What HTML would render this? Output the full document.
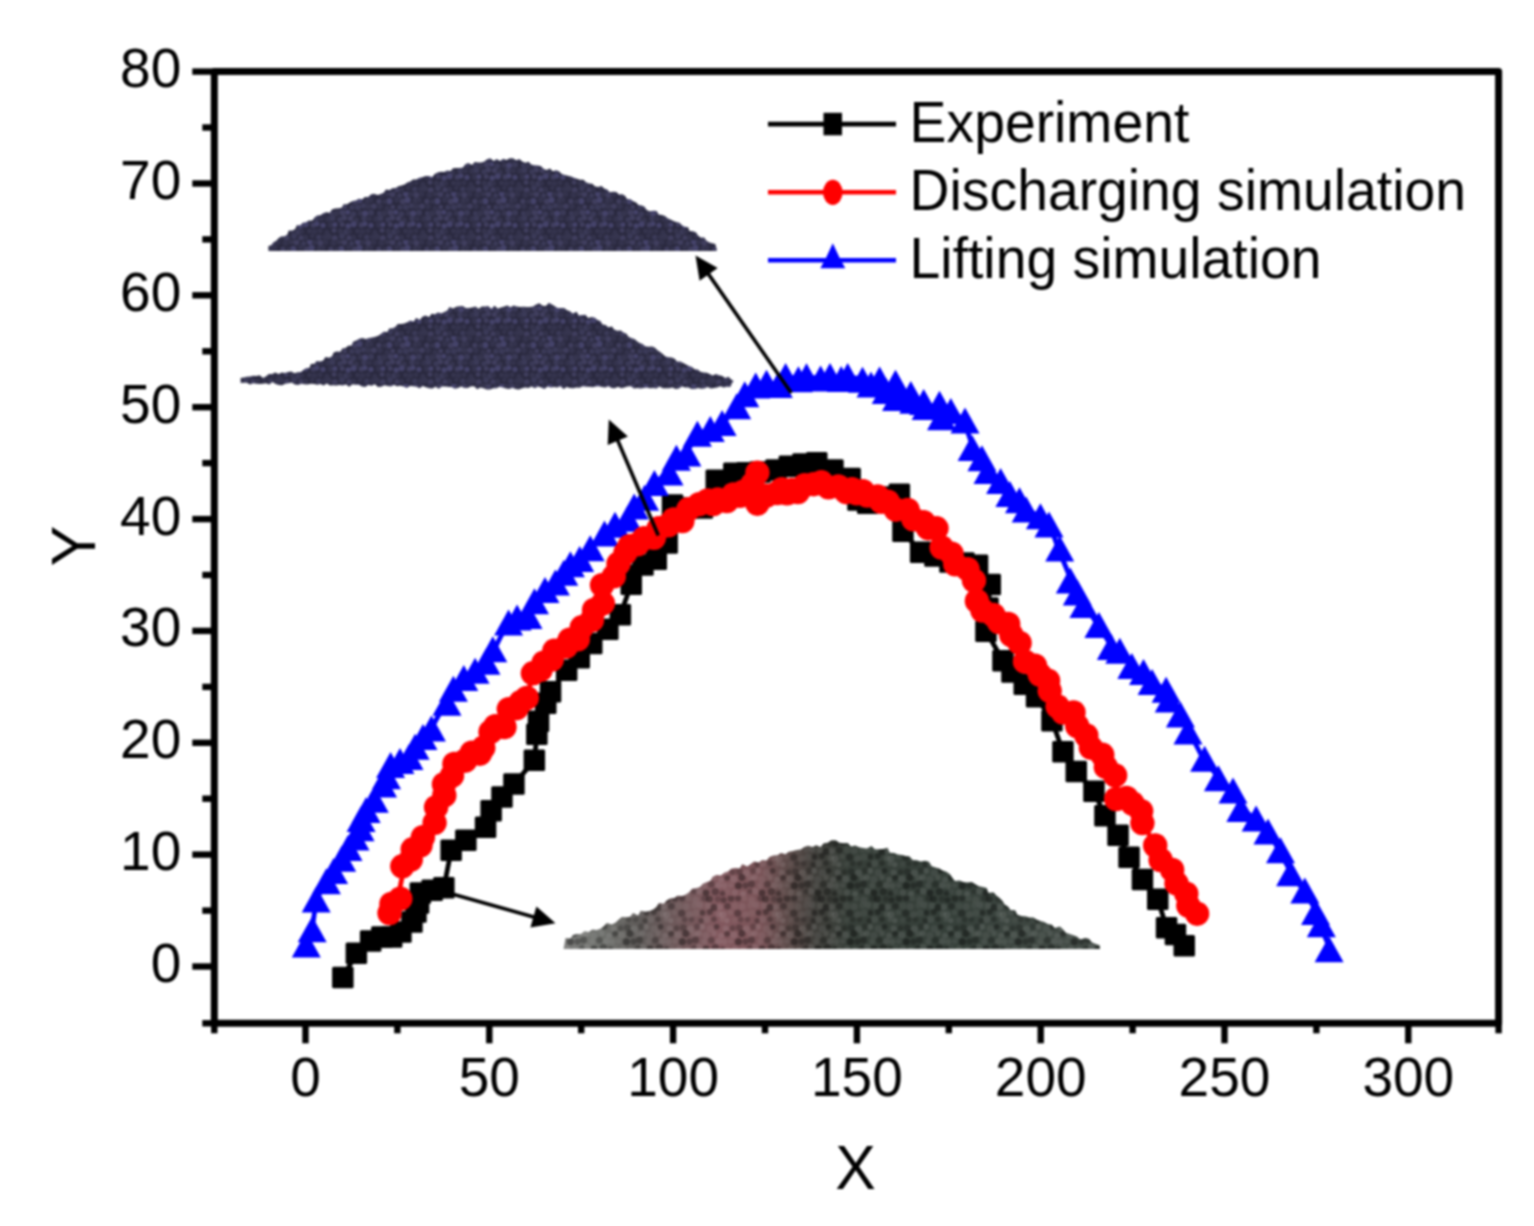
<!DOCTYPE html><html><head><meta charset="utf-8"><title>Pile profile</title><style>html,body{margin:0;padding:0;background:#fff;}svg{display:block;}#w{filter:blur(1px);width:1534px;height:1226px;}text{font-family:"Liberation Sans",Arial,sans-serif;fill:#000;}</style></head><body><div id="w"><svg width="1534" height="1226" viewBox="0 0 1534 1226"><defs><pattern id="pn" width="48" height="48" patternUnits="userSpaceOnUse"><rect width="48" height="48" fill="#2a293f"/><circle cx="3.4" cy="1.8" r="2.6" fill="#36354f"/><circle cx="8.4" cy="2.3" r="3.0" fill="#403e5e"/><circle cx="15.6" cy="3.5" r="2.5" fill="#3b3a58"/><circle cx="22.0" cy="1.9" r="3.0" fill="#45436a"/><circle cx="26.8" cy="1.8" r="2.9" fill="#34334d"/><circle cx="32.3" cy="3.0" r="2.9" fill="#403e5e"/><circle cx="37.8" cy="2.2" r="2.5" fill="#34334d"/><circle cx="-2.6" cy="3.1" r="3.0" fill="#34334d"/><circle cx="45.4" cy="3.1" r="3.0" fill="#34334d"/><circle cx="5.3" cy="9.2" r="3.1" fill="#45436a"/><circle cx="12.8" cy="7.7" r="2.9" fill="#34334d"/><circle cx="18.8" cy="9.5" r="2.9" fill="#403e5e"/><circle cx="23.6" cy="8.1" r="3.1" fill="#45436a"/><circle cx="31.2" cy="8.6" r="2.7" fill="#36354f"/><circle cx="34.9" cy="8.0" r="2.7" fill="#34334d"/><circle cx="42.9" cy="9.3" r="2.6" fill="#403e5e"/><circle cx="0.8" cy="9.6" r="2.4" fill="#36354f"/><circle cx="48.8" cy="9.6" r="2.4" fill="#36354f"/><circle cx="3.1" cy="16.2" r="2.6" fill="#34334d"/><circle cx="8.7" cy="15.1" r="2.4" fill="#403e5e"/><circle cx="15.9" cy="15.3" r="2.6" fill="#3b3a58"/><circle cx="21.9" cy="15.2" r="3.0" fill="#3b3a58"/><circle cx="27.5" cy="13.8" r="2.8" fill="#3b3a58"/><circle cx="32.3" cy="14.5" r="2.9" fill="#36354f"/><circle cx="37.9" cy="14.3" r="2.8" fill="#403e5e"/><circle cx="44.0" cy="14.4" r="2.8" fill="#34334d"/><circle cx="6.4" cy="20.6" r="2.9" fill="#403e5e"/><circle cx="11.7" cy="20.2" r="2.5" fill="#45436a"/><circle cx="17.4" cy="22.1" r="2.9" fill="#3b3a58"/><circle cx="24.4" cy="21.3" r="2.7" fill="#36354f"/><circle cx="29.1" cy="21.6" r="3.0" fill="#45436a"/><circle cx="35.1" cy="20.7" r="2.9" fill="#3b3a58"/><circle cx="43.3" cy="21.4" r="2.4" fill="#3b3a58"/><circle cx="0.1" cy="21.5" r="3.0" fill="#36354f"/><circle cx="48.1" cy="21.5" r="3.0" fill="#36354f"/><circle cx="3.9" cy="27.7" r="2.6" fill="#3b3a58"/><circle cx="8.3" cy="25.8" r="2.8" fill="#403e5e"/><circle cx="14.5" cy="26.4" r="2.7" fill="#403e5e"/><circle cx="20.2" cy="28.2" r="2.7" fill="#36354f"/><circle cx="28.0" cy="26.5" r="2.7" fill="#3b3a58"/><circle cx="33.4" cy="26.7" r="2.5" fill="#34334d"/><circle cx="40.1" cy="26.9" r="3.0" fill="#34334d"/><circle cx="44.4" cy="26.3" r="3.0" fill="#3b3a58"/><circle cx="6.2" cy="32.4" r="2.5" fill="#403e5e"/><circle cx="12.2" cy="34.0" r="2.7" fill="#45436a"/><circle cx="17.7" cy="32.3" r="3.0" fill="#45436a"/><circle cx="25.3" cy="33.0" r="2.7" fill="#403e5e"/><circle cx="28.9" cy="31.8" r="2.6" fill="#45436a"/><circle cx="35.0" cy="33.3" r="2.6" fill="#45436a"/><circle cx="42.8" cy="32.8" r="2.9" fill="#34334d"/><circle cx="-1.1" cy="32.7" r="2.5" fill="#45436a"/><circle cx="46.9" cy="32.7" r="2.5" fill="#45436a"/><circle cx="4.3" cy="39.1" r="2.6" fill="#36354f"/><circle cx="10.2" cy="39.9" r="2.8" fill="#3b3a58"/><circle cx="13.7" cy="39.6" r="2.4" fill="#34334d"/><circle cx="21.5" cy="39.1" r="2.4" fill="#36354f"/><circle cx="26.4" cy="39.4" r="2.7" fill="#34334d"/><circle cx="32.0" cy="38.8" r="2.5" fill="#34334d"/><circle cx="38.9" cy="40.2" r="2.5" fill="#34334d"/><circle cx="-2.0" cy="38.4" r="2.4" fill="#403e5e"/><circle cx="46.0" cy="38.4" r="2.4" fill="#403e5e"/><circle cx="6.0" cy="44.2" r="2.9" fill="#3b3a58"/><circle cx="13.1" cy="46.0" r="2.7" fill="#403e5e"/><circle cx="17.5" cy="45.4" r="2.6" fill="#34334d"/><circle cx="24.3" cy="44.1" r="2.4" fill="#34334d"/><circle cx="30.7" cy="45.1" r="2.7" fill="#3b3a58"/><circle cx="36.7" cy="45.1" r="2.8" fill="#34334d"/><circle cx="40.7" cy="44.5" r="3.1" fill="#36354f"/><circle cx="-1.2" cy="46.1" r="2.9" fill="#403e5e"/><circle cx="46.8" cy="46.1" r="2.9" fill="#403e5e"/></pattern><linearGradient id="pg" gradientUnits="userSpaceOnUse" x1="563" y1="0" x2="1100" y2="0"><stop offset="0.000" stop-color="#7e7e7c"/><stop offset="0.069" stop-color="#6e706c"/><stop offset="0.143" stop-color="#5e5a58"/><stop offset="0.218" stop-color="#70585a"/><stop offset="0.292" stop-color="#82585e"/><stop offset="0.367" stop-color="#7a5458"/><stop offset="0.423" stop-color="#5a4a48"/><stop offset="0.469" stop-color="#403f3b"/><stop offset="0.534" stop-color="#373f39"/><stop offset="0.721" stop-color="#36403a"/><stop offset="1.000" stop-color="#454d48"/></linearGradient><pattern id="pd" width="56" height="56" patternUnits="userSpaceOnUse"><circle cx="3.0" cy="2.5" r="3.3" fill="#000" fill-opacity="0.30"/><circle cx="59.0" cy="2.5" r="3.3" fill="#000" fill-opacity="0.30"/><circle cx="10.1" cy="2.2" r="3.1" fill="#000" fill-opacity="0.28"/><circle cx="16.2" cy="2.3" r="3.0" fill="#fff" fill-opacity="0.05"/><circle cx="23.7" cy="3.9" r="3.5" fill="#fff" fill-opacity="0.06"/><circle cx="32.9" cy="2.1" r="3.5" fill="#000" fill-opacity="0.21"/><circle cx="37.4" cy="2.9" r="3.4" fill="#000" fill-opacity="0.31"/><circle cx="45.9" cy="3.1" r="3.1" fill="#000" fill-opacity="0.19"/><circle cx="51.6" cy="4.0" r="3.0" fill="#000" fill-opacity="0.31"/><circle cx="6.9" cy="9.9" r="3.4" fill="#fff" fill-opacity="0.05"/><circle cx="14.2" cy="10.6" r="3.5" fill="#fff" fill-opacity="0.06"/><circle cx="22.4" cy="9.4" r="3.0" fill="#fff" fill-opacity="0.05"/><circle cx="28.0" cy="9.1" r="3.3" fill="#fff" fill-opacity="0.07"/><circle cx="36.1" cy="9.9" r="3.3" fill="#fff" fill-opacity="0.07"/><circle cx="41.9" cy="11.5" r="3.5" fill="#000" fill-opacity="0.33"/><circle cx="47.7" cy="11.1" r="3.2" fill="#fff" fill-opacity="0.09"/><circle cx="-0.6" cy="10.2" r="3.3" fill="#000" fill-opacity="0.28"/><circle cx="55.4" cy="10.2" r="3.3" fill="#000" fill-opacity="0.28"/><circle cx="2.5" cy="16.4" r="2.7" fill="#fff" fill-opacity="0.05"/><circle cx="58.5" cy="16.4" r="2.7" fill="#fff" fill-opacity="0.05"/><circle cx="9.7" cy="17.2" r="3.5" fill="#000" fill-opacity="0.28"/><circle cx="17.6" cy="18.7" r="3.4" fill="#fff" fill-opacity="0.06"/><circle cx="24.2" cy="17.1" r="3.5" fill="#fff" fill-opacity="0.05"/><circle cx="30.5" cy="16.7" r="2.8" fill="#000" fill-opacity="0.31"/><circle cx="37.8" cy="16.0" r="3.0" fill="#000" fill-opacity="0.30"/><circle cx="46.9" cy="18.1" r="3.1" fill="#fff" fill-opacity="0.08"/><circle cx="51.2" cy="18.7" r="3.4" fill="#fff" fill-opacity="0.09"/><circle cx="6.7" cy="24.2" r="2.7" fill="#fff" fill-opacity="0.04"/><circle cx="12.7" cy="23.6" r="2.8" fill="#000" fill-opacity="0.19"/><circle cx="19.5" cy="23.5" r="2.7" fill="#000" fill-opacity="0.19"/><circle cx="29.1" cy="24.8" r="2.7" fill="#000" fill-opacity="0.26"/><circle cx="34.6" cy="23.4" r="3.4" fill="#fff" fill-opacity="0.07"/><circle cx="42.0" cy="23.3" r="2.7" fill="#000" fill-opacity="0.24"/><circle cx="50.0" cy="23.5" r="2.6" fill="#fff" fill-opacity="0.07"/><circle cx="-1.1" cy="24.6" r="2.6" fill="#fff" fill-opacity="0.10"/><circle cx="54.9" cy="24.6" r="2.6" fill="#fff" fill-opacity="0.10"/><circle cx="4.6" cy="32.1" r="2.9" fill="#000" fill-opacity="0.22"/><circle cx="11.3" cy="31.6" r="3.4" fill="#000" fill-opacity="0.23"/><circle cx="18.4" cy="33.0" r="3.5" fill="#fff" fill-opacity="0.09"/><circle cx="25.2" cy="30.7" r="3.1" fill="#000" fill-opacity="0.19"/><circle cx="30.1" cy="30.8" r="2.9" fill="#fff" fill-opacity="0.10"/><circle cx="38.3" cy="32.8" r="3.6" fill="#fff" fill-opacity="0.06"/><circle cx="44.7" cy="30.7" r="2.8" fill="#000" fill-opacity="0.32"/><circle cx="-2.3" cy="32.5" r="3.1" fill="#fff" fill-opacity="0.09"/><circle cx="53.7" cy="32.5" r="3.1" fill="#fff" fill-opacity="0.09"/><circle cx="5.8" cy="39.0" r="3.5" fill="#fff" fill-opacity="0.09"/><circle cx="13.9" cy="37.5" r="3.4" fill="#000" fill-opacity="0.36"/><circle cx="22.4" cy="38.2" r="3.0" fill="#fff" fill-opacity="0.08"/><circle cx="27.0" cy="37.4" r="2.8" fill="#fff" fill-opacity="0.09"/><circle cx="33.9" cy="39.5" r="3.6" fill="#fff" fill-opacity="0.06"/><circle cx="42.1" cy="37.4" r="2.6" fill="#fff" fill-opacity="0.08"/><circle cx="49.1" cy="39.8" r="3.0" fill="#fff" fill-opacity="0.09"/><circle cx="-0.9" cy="37.8" r="2.9" fill="#000" fill-opacity="0.31"/><circle cx="55.1" cy="37.8" r="2.9" fill="#000" fill-opacity="0.31"/><circle cx="2.8" cy="45.3" r="2.7" fill="#fff" fill-opacity="0.06"/><circle cx="10.4" cy="45.8" r="3.5" fill="#000" fill-opacity="0.38"/><circle cx="17.5" cy="45.6" r="3.1" fill="#000" fill-opacity="0.28"/><circle cx="23.5" cy="44.0" r="3.4" fill="#000" fill-opacity="0.28"/><circle cx="32.2" cy="45.7" r="2.9" fill="#fff" fill-opacity="0.07"/><circle cx="39.4" cy="44.3" r="3.2" fill="#000" fill-opacity="0.24"/><circle cx="46.3" cy="45.5" r="3.2" fill="#fff" fill-opacity="0.09"/><circle cx="52.3" cy="45.8" r="3.1" fill="#fff" fill-opacity="0.08"/><circle cx="6.9" cy="52.6" r="3.1" fill="#fff" fill-opacity="0.08"/><circle cx="15.1" cy="53.8" r="2.9" fill="#fff" fill-opacity="0.10"/><circle cx="22.0" cy="51.4" r="2.7" fill="#000" fill-opacity="0.20"/><circle cx="27.2" cy="51.2" r="3.3" fill="#fff" fill-opacity="0.09"/><circle cx="34.0" cy="53.1" r="3.3" fill="#000" fill-opacity="0.37"/><circle cx="43.4" cy="51.7" r="3.6" fill="#000" fill-opacity="0.29"/><circle cx="50.5" cy="53.5" r="2.8" fill="#000" fill-opacity="0.29"/><circle cx="-0.5" cy="51.6" r="2.9" fill="#fff" fill-opacity="0.04"/><circle cx="55.5" cy="51.6" r="2.9" fill="#fff" fill-opacity="0.04"/></pattern><marker id="ah" viewBox="0 0 10 10" refX="9" refY="5" markerWidth="9" markerHeight="9" markerUnits="userSpaceOnUse" orient="auto"><path d="M0 0L10 5L0 10Z" fill="#000"/></marker></defs><rect width="1534" height="1226" fill="#fff"/><polygon fill="url(#pn)" points="268.3,246.2 271.4,245 273.4,242.3 276.3,240.8 278.4,238.3 281,236.5 284.7,236.2 287.4,234.6 288.7,230.6 292.4,230.6 295.2,229 296.8,225.3 300.4,225.2 302.7,222.7 306.1,222.3 308.7,220.4 312.3,220.4 314.5,217.6 317.1,215.5 320.5,215.3 323.1,213.3 326.1,212.3 329.8,212.8 331.9,209.4 335,208.6 338.3,208.2 341.6,207.7 343.6,204.2 347.1,204.3 349.8,202.5 352.7,201 355.9,200.4 358.7,198.7 362.3,199.3 364.9,197 368.2,197 370.8,194.5 373.9,193.7 377.7,195.1 380.7,194.1 383.7,192.8 385.9,189.5 389.5,190 392.3,188.2 395.6,188.1 398.4,186.3 401.5,185.5 404.5,184.5 407.3,182.6 410.3,181.5 413,179.5 416.3,179.4 419.2,177.8 422.4,177.2 425.4,176 428.7,176.1 432.2,176.9 434.7,173.9 437.6,172.6 440.8,171.8 444.1,171.9 447,170.5 450.6,171 453,168.2 456.3,168 459.7,167.9 462.9,167.6 465.3,164.3 468.3,163.1 472.1,165.1 474.6,162.1 478.1,162.6 481.4,162.6 484.4,161.4 487.1,159.2 490.3,158.2 493.6,160.9 496.8,159 500,160.9 503.2,158.7 506.4,159.9 509.7,158.2 513,158.2 516,160.2 519.4,159 522.2,161.6 525.3,162.8 528.7,161.8 531.1,164.6 534.3,165.2 537.6,165.6 540.8,166 543.3,168.5 546.2,169.9 550.1,168.4 552.6,171.2 556.3,170.3 559.2,171.5 561.7,174.1 564.8,174.9 567.9,175.8 571.1,176.5 574,177.7 577,178.8 580.1,179.7 583.5,179.8 586,182.2 589,183.5 592.3,183.7 594.8,186.2 597.9,187 601.6,186.1 604.1,188.5 607.2,189.5 609.7,192.2 613.2,191.7 616.4,192 618.9,194.4 622.4,194.3 625.2,195.9 627,199.1 630.6,199.2 633.1,201.3 636.2,202.4 638.4,205 641.7,205.6 644.6,206.8 646.7,210.1 649.7,211.3 653.4,210.7 656.7,211.1 658.7,214.4 661.9,215.1 665,216.1 667.6,218.2 670.5,219.4 673.4,220.9 676.3,222.1 679.6,222.8 681.9,225.2 684.7,226.7 688.1,227.3 689.5,231.1 693.1,231.3 696.1,232.6 698,235.5 700.6,237.4 704.3,237.5 706.2,240.6 708.9,242.3 712.1,243.2 715.3,244.1 716.2,247.2 716.9,249.3 716.6,251 268.5,251"/><polygon fill="url(#pn)" points="240.6,378 243.8,377.4 246.9,376.8 250.1,376.4 253.3,375.7 256.5,376.1 259.7,375.3 263.1,378 266.1,376.2 268.9,373.9 272.2,374 275.1,372.4 278.7,374.1 281.7,372.6 284.9,373.1 288.1,372 291.2,371.6 294.6,373.2 297.7,372.3 300.9,371.9 303.5,369.7 305.9,368.2 309.6,367.7 310.8,364.1 314.5,363.7 316.6,361 320.1,361.4 323.3,360.6 325.3,356.9 329.1,357.7 332,356.3 333.7,352.6 336.7,351.5 340.4,351.8 342.3,348.4 345.6,347.9 348.1,345.8 351.6,345.4 353.1,341.7 356.3,340.6 359.1,338.8 362.3,338.1 365.9,339 368.9,337.9 372.1,337.6 375.3,336.7 378.4,335.7 381.1,333.8 383.6,331.7 387.4,332 389.2,328.6 392.6,328.2 395.5,326.8 397.8,324 401.2,324.1 404.4,323.6 407.3,322.2 410.2,320.6 413.8,321.6 416,317.9 420,319.8 422.4,316.7 425.3,315.5 429.2,317.1 431.5,313.8 435,314.2 437.8,312.6 441.5,313.2 444.4,311.9 447.3,310.4 449.5,306.9 453.1,308.6 456.2,306.8 459.4,306.2 462.6,306.1 465.8,308 469,307.9 472.2,307.4 475.4,306.6 478.6,308.7 481.8,306.6 485,306.4 488.1,306.1 491.4,308.7 494.5,305.7 497.8,308.4 501,307.5 504.2,306.6 507.3,305.5 510.6,307.3 513.7,305.4 516.9,306.4 520.2,306.9 523.4,306.7 526.6,306.9 529.8,307 533,306.5 536.1,304.6 539.2,303.3 542.6,305.8 545.8,305.9 548.9,302.7 552,304.6 554.8,306.2 557.6,307.9 561,307.9 564.3,308.1 567,310.2 570,311.3 572.7,313.4 576.6,311.7 578.8,315.4 582.3,314.9 585.6,314.8 588,318 591.7,317.1 595,317.7 597.4,320.1 600.5,321.1 602.4,324.4 605.7,324.9 608.2,327.2 612,326.6 614.1,329.6 617.2,330.7 620.8,330.6 623.4,332.6 626.4,333.7 628.5,336.7 631.3,338.1 634.5,338.9 637,341.2 639.6,343.1 642.6,344.1 645.2,346.2 648.4,346.8 652.2,346.4 655,347.8 657.5,350.2 660.1,352.1 662.7,354.1 665.1,356.3 668.2,357.3 671.8,357.4 674.7,358.7 676.9,361.4 680.4,361.5 683.3,362.9 686.1,364.4 688.9,365.9 692,366.9 694.5,369.2 697.8,369.4 700.3,371.8 703.5,372.4 706.8,372.7 709.7,374 712.6,375.6 716.1,373.9 719.1,375.3 722.3,375.9 725.2,378.1 728.6,376.8 730.6,379.1 733.6,380.9 731.8,383.4 730.4,386.9 726.8,386.7 723.6,387.4 720.3,386.2 717.2,387.4 714,387.9 710.9,388.4 707.6,387 704.4,388.6 701.2,388.7 698,388.1 694.8,389.1 691.6,389 688.4,387.6 685.2,387.6 682,386.5 678.8,388.6 675.6,389 672.4,387.5 669.2,388.2 666,388.3 662.8,388.3 659.6,386.6 656.4,388.5 653.2,387.9 650,388.2 646.8,387.4 643.6,388 640.4,388.5 637.2,388.1 634,388.4 630.8,386.2 627.6,386.6 624.4,387.5 621.2,388.2 618,386.8 614.8,388.3 611.6,388.1 608.4,386.3 605.2,387.6 602,386.9 598.8,386.3 595.6,386.6 592.4,387.2 589.2,386.7 586,386.8 582.8,386.3 579.6,387.7 576.4,387.4 573.2,388.2 570,388.1 566.8,387 563.6,389.1 560.4,386.2 557.2,387.5 554,387.1 550.8,387.6 547.6,386.6 544.4,388.9 541.2,387.5 538,386.4 534.8,388.2 531.6,386.6 528.4,388 525.2,387.4 522,388.2 518.8,389.4 515.6,388.9 512.4,387.7 509.2,388.9 506,388.4 502.8,387.5 499.6,386.8 496.4,388.3 493.2,388.2 490,389.4 486.8,389.5 483.6,388.3 480.4,387.5 477.2,389.2 474,386.3 470.8,386.6 467.6,388 464.4,388 461.2,386.5 458,388 454.8,388.7 451.6,387 448.4,387.1 445.2,386.4 442,386.5 438.8,388.7 435.6,386.7 432.4,388.5 429.2,388.3 426,387.2 422.8,386 419.6,388.3 416.4,386.7 413.2,386.3 410,386 406.8,388 403.6,386.4 400.4,385.7 397.2,386.2 394,385 390.8,386.5 387.6,385.9 384.4,385.3 381.2,386.8 378,386.9 374.9,384.2 371.6,385.8 368.4,384.9 365.2,387 362,386.4 358.8,384.7 355.6,384.7 352.5,384.2 349.2,386.8 346,384.5 342.8,385.5 339.6,385 336.4,385.5 333.2,385.3 330,385.6 326.9,383.6 323.6,385.6 320.5,384 317.2,384.7 314.1,384 310.9,383.8 307.6,384.5 304.4,384.2 301.3,383.8 298,385 294.8,384.4 291.7,382.6 288.5,383.2 285.3,383.8 282,385.2 278.8,385 275.6,383.9 272.5,382.1 269.2,384.5 266.1,383.3 262.8,383.7 259.6,384.1 256.4,383.8 253.3,383.2 250,384.5 246.9,382.8 243.7,382.7 240.6,383"/><polygon fill="url(#pg)" points="563.5,949 564.3,945 564.9,941.5 565.5,938 570.3,938.5 573,935 577,934 581.1,934.1 584.4,931.2 588.8,932.1 592.2,929.4 596.5,929.9 600.4,928.8 603.8,926.2 606.9,923.1 611.7,924.6 615.3,922.8 618.5,919.7 621.8,917.1 626.1,917.3 630.1,916.7 633.1,913 638.2,915.5 640.8,910.8 645.4,911.8 649.4,911.1 653.2,909.4 656.4,906.9 659,903.1 663.8,903.8 666.6,900.5 670.2,898.6 674.3,898 677.6,895.7 682.2,896.1 685.8,894.5 689.2,892.3 692.1,888.7 696.2,888.2 700,886.9 702.9,883.8 706.6,882.2 710.4,880.7 712.7,876.8 716.4,875.1 720.9,875.4 724.2,872.7 728,871.5 731.2,868.7 735.2,868 739.6,868.5 742.4,864.2 747.4,866.5 750.8,864 754.1,861.4 758.7,862.6 762.1,860 766.5,860.6 769.5,856.9 773.3,855.5 777.4,855.2 780.9,852.9 785.4,854.3 788.8,851.7 792.8,851.1 796.7,850.1 800.7,849.6 804.2,847 808,845.7 812.4,846.9 816.1,845.2 820.6,847 823.9,843.3 827.8,842.7 831.4,840.3 835.7,840.2 839.5,842.8 843.5,843.3 847.7,842.9 851,846.6 855.3,845.4 859.1,847.2 863.1,847.9 867,848.6 871.4,846 875,849.2 879,849.2 883.1,849 887.5,847.8 889.8,852.8 894.1,853.1 897.8,854.5 901.9,854.9 905.5,856 909.5,856.6 912.8,860 916.8,860.3 920.6,861.6 925.1,860.7 929,861.7 931.7,866.3 935.5,867.5 939.2,868.4 942.5,870.4 946.3,871.8 949.8,873.9 952.1,877.4 954.9,880.9 959.6,880.6 963.4,882 967.5,882.4 971.8,881.9 975.3,884.2 978.8,886.2 982.8,886.9 986.8,888 988.2,892.7 993.6,892.6 996.3,895.6 999.6,897.9 1002.3,900.8 1004.6,904.4 1007.9,906.6 1010.5,909.9 1015.1,910.2 1017.3,914.7 1021.4,915.9 1025.5,916.2 1029.3,917.4 1033.4,917.6 1037,919.8 1040.6,920.9 1044.2,922 1047.7,924 1051.8,924.8 1054.7,927.9 1059.9,926.4 1063,929.2 1065.8,932.7 1069.6,934 1073.4,935.2 1077.1,936.8 1080.3,939.4 1085.2,938.1 1089.1,939 1092.1,942.5 1095.8,943.9 1099.6,945.2 1100,949"/><polygon fill="url(#pd)" points="563.5,949 564.3,945 564.9,941.5 565.5,938 570.3,938.5 573,935 577,934 581.1,934.1 584.4,931.2 588.8,932.1 592.2,929.4 596.5,929.9 600.4,928.8 603.8,926.2 606.9,923.1 611.7,924.6 615.3,922.8 618.5,919.7 621.8,917.1 626.1,917.3 630.1,916.7 633.1,913 638.2,915.5 640.8,910.8 645.4,911.8 649.4,911.1 653.2,909.4 656.4,906.9 659,903.1 663.8,903.8 666.6,900.5 670.2,898.6 674.3,898 677.6,895.7 682.2,896.1 685.8,894.5 689.2,892.3 692.1,888.7 696.2,888.2 700,886.9 702.9,883.8 706.6,882.2 710.4,880.7 712.7,876.8 716.4,875.1 720.9,875.4 724.2,872.7 728,871.5 731.2,868.7 735.2,868 739.6,868.5 742.4,864.2 747.4,866.5 750.8,864 754.1,861.4 758.7,862.6 762.1,860 766.5,860.6 769.5,856.9 773.3,855.5 777.4,855.2 780.9,852.9 785.4,854.3 788.8,851.7 792.8,851.1 796.7,850.1 800.7,849.6 804.2,847 808,845.7 812.4,846.9 816.1,845.2 820.6,847 823.9,843.3 827.8,842.7 831.4,840.3 835.7,840.2 839.5,842.8 843.5,843.3 847.7,842.9 851,846.6 855.3,845.4 859.1,847.2 863.1,847.9 867,848.6 871.4,846 875,849.2 879,849.2 883.1,849 887.5,847.8 889.8,852.8 894.1,853.1 897.8,854.5 901.9,854.9 905.5,856 909.5,856.6 912.8,860 916.8,860.3 920.6,861.6 925.1,860.7 929,861.7 931.7,866.3 935.5,867.5 939.2,868.4 942.5,870.4 946.3,871.8 949.8,873.9 952.1,877.4 954.9,880.9 959.6,880.6 963.4,882 967.5,882.4 971.8,881.9 975.3,884.2 978.8,886.2 982.8,886.9 986.8,888 988.2,892.7 993.6,892.6 996.3,895.6 999.6,897.9 1002.3,900.8 1004.6,904.4 1007.9,906.6 1010.5,909.9 1015.1,910.2 1017.3,914.7 1021.4,915.9 1025.5,916.2 1029.3,917.4 1033.4,917.6 1037,919.8 1040.6,920.9 1044.2,922 1047.7,924 1051.8,924.8 1054.7,927.9 1059.9,926.4 1063,929.2 1065.8,932.7 1069.6,934 1073.4,935.2 1077.1,936.8 1080.3,939.4 1085.2,938.1 1089.1,939 1092.1,942.5 1095.8,943.9 1099.6,945.2 1100,949"/><polyline fill="none" stroke="#000" stroke-width="4.8" stroke-linejoin="round" points="342.9,977.5 356.4,953.1 370.7,941 381.8,937 391.7,937 401,932 412,922 416,912 418.5,903 420.3,893 443.9,887.6 451.2,850.1 465.9,840.3 485.5,827.2 491.2,810.9 502,797 514,784 534.4,760.4 536.9,734.3 538.5,721.2 545.8,703.3 550.5,691.9 566.6,670.4 579.2,657.8 591.7,643.5 607.9,629.1 620.4,614.8 631.2,584.3 631.2,575.3 643,565 656.3,559.2 667.1,543 672.5,505 688,508 702.3,508 716.3,480.2 733.9,473.2 760,472 776,470 789.4,466.1 803,464 816.7,462.6 833,470 850.1,478.5 858,500 867.7,503.1 884,497 899.4,494.3 903,531.3 920.6,552.4 935,556 950,562 964,563 977.5,565.4 990.2,584.5 988,608 986,631.1 1003,660.8 1012,672 1024.2,684.1 1036.6,696.6 1052,720.8 1063,751.7 1076.3,771.5 1093.9,791.3 1104.9,815.6 1118.1,835.4 1129.1,857.4 1142.4,879.5 1157.8,899.3 1166.6,927.9 1175.4,934.5 1184.2,945.6"/><g fill="#000"><rect x="332.1" y="966.8" width="21.5" height="21.5" rx="1.5"/><rect x="345.6" y="942.4" width="21.5" height="21.5" rx="1.5"/><rect x="359.9" y="930.2" width="21.5" height="21.5" rx="1.5"/><rect x="371.1" y="926.2" width="21.5" height="21.5" rx="1.5"/><rect x="380.9" y="926.2" width="21.5" height="21.5" rx="1.5"/><rect x="390.2" y="921.2" width="21.5" height="21.5" rx="1.5"/><rect x="401.2" y="911.2" width="21.5" height="21.5" rx="1.5"/><rect x="405.2" y="901.2" width="21.5" height="21.5" rx="1.5"/><rect x="407.8" y="892.2" width="21.5" height="21.5" rx="1.5"/><rect x="409.6" y="882.2" width="21.5" height="21.5" rx="1.5"/><rect x="421.4" y="879.5" width="21.5" height="21.5" rx="1.5"/><rect x="433.1" y="876.9" width="21.5" height="21.5" rx="1.5"/><rect x="440.4" y="839.4" width="21.5" height="21.5" rx="1.5"/><rect x="455.1" y="829.5" width="21.5" height="21.5" rx="1.5"/><rect x="474.8" y="816.5" width="21.5" height="21.5" rx="1.5"/><rect x="480.4" y="800.1" width="21.5" height="21.5" rx="1.5"/><rect x="491.2" y="786.2" width="21.5" height="21.5" rx="1.5"/><rect x="503.2" y="773.2" width="21.5" height="21.5" rx="1.5"/><rect x="523.6" y="749.6" width="21.5" height="21.5" rx="1.5"/><rect x="526.1" y="723.5" width="21.5" height="21.5" rx="1.5"/><rect x="527.8" y="710.5" width="21.5" height="21.5" rx="1.5"/><rect x="535" y="692.5" width="21.5" height="21.5" rx="1.5"/><rect x="539.8" y="681.1" width="21.5" height="21.5" rx="1.5"/><rect x="555.9" y="659.6" width="21.5" height="21.5" rx="1.5"/><rect x="568.5" y="647" width="21.5" height="21.5" rx="1.5"/><rect x="581" y="632.8" width="21.5" height="21.5" rx="1.5"/><rect x="597.1" y="618.4" width="21.5" height="21.5" rx="1.5"/><rect x="609.6" y="604" width="21.5" height="21.5" rx="1.5"/><rect x="620.5" y="573.5" width="21.5" height="21.5" rx="1.5"/><rect x="620.5" y="564.5" width="21.5" height="21.5" rx="1.5"/><rect x="632.2" y="554.2" width="21.5" height="21.5" rx="1.5"/><rect x="645.5" y="548.5" width="21.5" height="21.5" rx="1.5"/><rect x="656.4" y="532.2" width="21.5" height="21.5" rx="1.5"/><rect x="661.8" y="494.2" width="21.5" height="21.5" rx="1.5"/><rect x="677.2" y="497.2" width="21.5" height="21.5" rx="1.5"/><rect x="691.5" y="497.2" width="21.5" height="21.5" rx="1.5"/><rect x="705.5" y="469.4" width="21.5" height="21.5" rx="1.5"/><rect x="723.1" y="462.4" width="21.5" height="21.5" rx="1.5"/><rect x="736.2" y="461.9" width="21.5" height="21.5" rx="1.5"/><rect x="749.2" y="461.2" width="21.5" height="21.5" rx="1.5"/><rect x="765.2" y="459.2" width="21.5" height="21.5" rx="1.5"/><rect x="778.6" y="455.4" width="21.5" height="21.5" rx="1.5"/><rect x="792.2" y="453.2" width="21.5" height="21.5" rx="1.5"/><rect x="806" y="451.9" width="21.5" height="21.5" rx="1.5"/><rect x="822.2" y="459.2" width="21.5" height="21.5" rx="1.5"/><rect x="839.4" y="467.8" width="21.5" height="21.5" rx="1.5"/><rect x="847.2" y="489.2" width="21.5" height="21.5" rx="1.5"/><rect x="857" y="492.4" width="21.5" height="21.5" rx="1.5"/><rect x="873.2" y="486.2" width="21.5" height="21.5" rx="1.5"/><rect x="888.6" y="483.6" width="21.5" height="21.5" rx="1.5"/><rect x="892.2" y="520.5" width="21.5" height="21.5" rx="1.5"/><rect x="909.9" y="541.6" width="21.5" height="21.5" rx="1.5"/><rect x="924.2" y="545.2" width="21.5" height="21.5" rx="1.5"/><rect x="939.2" y="551.2" width="21.5" height="21.5" rx="1.5"/><rect x="953.2" y="552.2" width="21.5" height="21.5" rx="1.5"/><rect x="966.8" y="554.6" width="21.5" height="21.5" rx="1.5"/><rect x="979.5" y="573.8" width="21.5" height="21.5" rx="1.5"/><rect x="977.2" y="597.2" width="21.5" height="21.5" rx="1.5"/><rect x="975.2" y="620.4" width="21.5" height="21.5" rx="1.5"/><rect x="992.2" y="650" width="21.5" height="21.5" rx="1.5"/><rect x="1001.2" y="661.2" width="21.5" height="21.5" rx="1.5"/><rect x="1013.5" y="673.4" width="21.5" height="21.5" rx="1.5"/><rect x="1025.8" y="685.9" width="21.5" height="21.5" rx="1.5"/><rect x="1041.2" y="710" width="21.5" height="21.5" rx="1.5"/><rect x="1052.2" y="741" width="21.5" height="21.5" rx="1.5"/><rect x="1065.5" y="760.8" width="21.5" height="21.5" rx="1.5"/><rect x="1083.2" y="780.5" width="21.5" height="21.5" rx="1.5"/><rect x="1094.2" y="804.9" width="21.5" height="21.5" rx="1.5"/><rect x="1107.3" y="824.6" width="21.5" height="21.5" rx="1.5"/><rect x="1118.3" y="846.6" width="21.5" height="21.5" rx="1.5"/><rect x="1131.7" y="868.8" width="21.5" height="21.5" rx="1.5"/><rect x="1147" y="888.5" width="21.5" height="21.5" rx="1.5"/><rect x="1155.8" y="917.1" width="21.5" height="21.5" rx="1.5"/><rect x="1164.7" y="923.8" width="21.5" height="21.5" rx="1.5"/><rect x="1173.5" y="934.9" width="21.5" height="21.5" rx="1.5"/></g><polyline fill="none" stroke="#0000ff" stroke-width="4.8" stroke-linejoin="round" points="306.3,944.4 312.2,929.2 316.2,899.6 326.4,881.3 333.6,871.1 341.7,858.8 348,848 355,837.4 360.1,828.3 361.1,819.1 366.2,809.9 374.3,799.7 382.5,784.4 386.5,776.3 390.6,765.1 400,761 409,756.9 415.1,746.7 423,737 431.4,728.4 446,702 463,677 476,672 494,650 508,622 527,615 544,589 556,583 563,572 579,558 591,549 604,533 627,518 643.6,497 655,483.5 668,471.5 677,458.4 686,452.8 698,434.4 710,428.4 723,424.2 736,405.7 755,384.2 778,384 786,377.3 798.4,378 806.5,377.6 820.6,377.6 830,377.6 841.2,377.6 847.6,377.6 863,378.5 871,385.5 880,378.5 886,392 896,382 896,398.6 911,393 913,401.8 924,401.4 926,408.4 940,403 941,418 951,409.5 964,421 973,447.5 989,470.3 1011,493 1027,508.5 1039.6,517.4 1049.7,524.2 1058.4,549 1071.2,580 1076.3,593 1084.5,604.5 1112,646.6 1118.8,651.8 1132.4,665.4 1153,680.9 1165,690.7 1170.1,699.1 1189,731 1203.5,759.5 1219,777.6 1232,791.4 1241.8,808 1268.6,831 1279.2,850.9 1291.3,872.9 1304,891 1316.6,911.5 1319.9,924.7 1330,948.9"/><g fill="#0000ff"><path d="M306.3 931.4L320.8 957.4L291.8 957.4Z"/><path d="M312.2 916.2L326.7 942.2L297.7 942.2Z"/><path d="M316.2 886.6L330.7 912.6L301.7 912.6Z"/><path d="M326.4 868.3L340.9 894.3L311.9 894.3Z"/><path d="M333.6 858.1L348.1 884.1L319.1 884.1Z"/><path d="M341.7 845.8L356.2 871.8L327.2 871.8Z"/><path d="M348 835L362.5 861L333.5 861Z"/><path d="M355 824.4L369.5 850.4L340.5 850.4Z"/><path d="M360.1 815.3L374.6 841.3L345.6 841.3Z"/><path d="M361.1 806.1L375.6 832.1L346.6 832.1Z"/><path d="M366.2 796.9L380.7 822.9L351.7 822.9Z"/><path d="M374.3 786.7L388.8 812.7L359.8 812.7Z"/><path d="M382.5 771.4L397 797.4L368 797.4Z"/><path d="M386.5 763.3L401 789.3L372 789.3Z"/><path d="M390.6 752.1L405.1 778.1L376.1 778.1Z"/><path d="M400 748L414.5 774L385.5 774Z"/><path d="M409 743.9L423.5 769.9L394.5 769.9Z"/><path d="M415.1 733.7L429.6 759.7L400.6 759.7Z"/><path d="M423 724L437.5 750L408.5 750Z"/><path d="M431.4 715.4L445.9 741.4L416.9 741.4Z"/><path d="M447 689.7L461.5 715.7L432.5 715.7Z"/><path d="M453.4 675.8L467.9 701.8L438.9 701.8Z"/><path d="M463.8 665L478.3 691L449.3 691Z"/><path d="M475.1 657.8L489.6 683.8L460.6 683.8Z"/><path d="M486 648.8L500.5 674.8L471.5 674.8Z"/><path d="M492.8 636.3L507.3 662.3L478.3 662.3Z"/><path d="M508.6 609.5L523.1 635.5L494.1 635.5Z"/><path d="M517.1 604.5L531.6 630.5L502.6 630.5Z"/><path d="M528 603.1L542.5 629.1L513.5 629.1Z"/><path d="M534.5 588.3L549 614.3L520 614.3Z"/><path d="M545 577L559.5 603L530.5 603Z"/><path d="M555.4 569.4L569.9 595.4L540.9 595.4Z"/><path d="M563.8 559.7L578.3 585.7L549.3 585.7Z"/><path d="M570.4 551.3L584.9 577.3L555.9 577.3Z"/><path d="M579.7 545.9L594.2 571.9L565.2 571.9Z"/><path d="M590.2 535.2L604.7 561.2L575.7 561.2Z"/><path d="M604.5 520.5L619 546.5L590 546.5Z"/><path d="M615 511.7L629.5 537.7L600.5 537.7Z"/><path d="M627.6 505.7L642.1 531.7L613.1 531.7Z"/><path d="M634.2 493.6L648.7 519.6L619.7 519.6Z"/><path d="M644.6 484.8L659.1 510.8L630.1 510.8Z"/><path d="M654.4 469.9L668.9 495.9L639.9 495.9Z"/><path d="M669 459.4L683.5 485.4L654.5 485.4Z"/><path d="M676.4 444.8L690.9 470.8L661.9 470.8Z"/><path d="M686.9 440.6L701.4 466.6L672.4 466.6Z"/><path d="M697.4 420.8L711.9 446.8L682.9 446.8Z"/><path d="M710.3 416.1L724.8 442.1L695.8 442.1Z"/><path d="M722.1 410.1L736.6 436.1L707.6 436.1Z"/><path d="M736.7 393.3L751.2 419.3L722.2 419.3Z"/><path d="M744.8 381.3L759.3 407.3L730.3 407.3Z"/><path d="M755.7 372.5L770.2 398.5L741.2 398.5Z"/><path d="M766.5 369.7L781 395.7L752 395.7Z"/><path d="M778.3 371.9L792.8 397.9L763.8 397.9Z"/><path d="M785.6 362.9L800.1 388.9L771.1 388.9Z"/><path d="M798.4 366.2L812.9 392.2L783.9 392.2Z"/><path d="M806.5 363.3L821 389.3L792 389.3Z"/><path d="M820.6 365.5L835.1 391.5L806.1 391.5Z"/><path d="M830 363.1L844.5 389.1L815.5 389.1Z"/><path d="M841.2 365.9L855.7 391.9L826.7 391.9Z"/><path d="M847.7 363.1L862.2 389.1L833.2 389.1Z"/><path d="M862.5 366.8L877 392.8L848 392.8Z"/><path d="M871 371.5L885.5 397.5L856.5 397.5Z"/><path d="M879.6 366.4L894.1 392.4L865.1 392.4Z"/><path d="M886.2 378.1L900.7 404.1L871.7 404.1Z"/><path d="M895.5 369.7L910 395.7L881 395.7Z"/><path d="M896.5 385L911 411L882 411Z"/><path d="M910.8 381L925.3 407L896.3 407Z"/><path d="M913.7 387.8L928.2 413.8L899.2 413.8Z"/><path d="M923.7 389.1L938.2 415.1L909.2 415.1Z"/><path d="M926.1 394.1L940.6 420.1L911.6 420.1Z"/><path d="M939.5 390.8L954 416.8L925 416.8Z"/><path d="M941.5 404.2L956 430.2L927 430.2Z"/><path d="M950.8 397.9L965.3 423.9L936.3 423.9Z"/><path d="M965 407.4L979.5 433.4L950.5 433.4Z"/><path d="M972.1 434.9L986.6 460.9L957.6 460.9Z"/><path d="M981.9 445.3L996.4 471.3L967.4 471.3Z"/><path d="M988 458.1L1002.5 484.1L973.5 484.1Z"/><path d="M1000.6 468.1L1015.1 494.1L986.1 494.1Z"/><path d="M1009.9 481L1024.4 507L995.4 507Z"/><path d="M1019.5 487.2L1034 513.2L1005 513.2Z"/><path d="M1026.2 496.5L1040.7 522.5L1011.7 522.5Z"/><path d="M1040.4 503.3L1054.9 529.3L1025.9 529.3Z"/><path d="M1049 511.6L1063.5 537.6L1034.5 537.6Z"/><path d="M1059.7 535.5L1074.2 561.5L1045.2 561.5Z"/><path d="M1070.3 567.4L1084.8 593.4L1055.8 593.4Z"/><path d="M1077.3 579.4L1091.8 605.4L1062.8 605.4Z"/><path d="M1083.9 591.9L1098.4 617.9L1069.4 617.9Z"/><path d="M1098.9 612.1L1113.4 638.1L1084.4 638.1Z"/><path d="M1111.3 634.1L1125.8 660.1L1096.8 660.1Z"/><path d="M1119.8 637.7L1134.3 663.7L1105.3 663.7Z"/><path d="M1131.8 653.1L1146.3 679.1L1117.3 679.1Z"/><path d="M1143.5 659.1L1158 685.1L1129 685.1Z"/><path d="M1152.1 669L1166.6 695L1137.6 695Z"/><path d="M1166.1 676.7L1180.6 702.7L1151.6 702.7Z"/><path d="M1169.2 686.6L1183.7 712.6L1154.7 712.6Z"/><path d="M1180.4 701.5L1194.9 727.5L1165.9 727.5Z"/><path d="M1188 718.5L1202.5 744.5L1173.5 744.5Z"/><path d="M1204.6 745.8L1219.1 771.8L1190.1 771.8Z"/><path d="M1218.4 765.2L1232.9 791.2L1203.9 791.2Z"/><path d="M1233 777.6L1247.5 803.6L1218.5 803.6Z"/><path d="M1240.8 795.9L1255.3 821.9L1226.3 821.9Z"/><path d="M1256.1 805.4L1270.6 831.4L1241.6 831.4Z"/><path d="M1268 818.5L1282.5 844.5L1253.5 844.5Z"/><path d="M1280.5 837.2L1295 863.2L1266 863.2Z"/><path d="M1290.6 860.3L1305.1 886.3L1276.1 886.3Z"/><path d="M1304.8 877.4L1319.3 903.4L1290.3 903.4Z"/><path d="M1315.5 899L1330 925L1301 925Z"/><path d="M1321.3 911.2L1335.8 937.2L1306.8 937.2Z"/><path d="M1329.1 936.3L1343.6 962.3L1314.6 962.3Z"/></g><polyline fill="none" stroke="#ff0000" stroke-width="4.8" stroke-linejoin="round" points="388,912 398,898 404.1,866.8 414.3,850.5 424.5,838.2 432.7,822 438.2,808 443,795 445.5,784.8 456.1,765.3 464,759 472.4,753.8 485.5,748.9 488.7,731 496,728 503.4,726.1 509.9,709.8 521.4,703.3 525.4,697.3 534.3,674 545,664 555.9,652.5 565,645 576.5,638 590.5,619 600.5,602.5 604.3,586.1 612,575 620.4,564.6 624,552 636.6,543 652.7,535.9 667.1,523.3 681.1,518.9 698.7,503.1 708,502 718.1,501.3 733.9,496.1 745,493 755.9,473.2 758.6,503.1 776.2,490.8 787,492 797.3,490.8 813.2,482 829,485.5 846.6,490.8 857,492 867.7,494.3 877,498 887.1,503.1 906.5,511.9 922.3,524.2 935.1,529.4 943.6,546.3 956.3,563.3 966,571 975.4,580.2 975.4,601.4 992.4,616.3 1007.2,624.8 1017.8,643.8 1026.3,660.8 1041.1,673.5 1052,690 1056,707.4 1071.9,714.2 1085.1,736.3 1100.5,756.1 1113.7,775.9 1118.1,798 1133.5,802.4 1144.6,822.2 1153.4,846.4 1162,859 1171,870.7 1184.2,894.9 1195.2,914.7"/><g fill="#ff0000"><circle cx="389.5" cy="913.1" r="12.2"/><circle cx="391.4" cy="903.9" r="12.2"/><circle cx="400.3" cy="898.7" r="12.2"/><circle cx="402.3" cy="866.3" r="12.2"/><circle cx="410.8" cy="859.6" r="12.2"/><circle cx="412.7" cy="849.3" r="12.2"/><circle cx="420.5" cy="845.3" r="12.2"/><circle cx="422.9" cy="837.2" r="12.2"/><circle cx="434.6" cy="822.8" r="12.2"/><circle cx="436.1" cy="807.2" r="12.2"/><circle cx="444.3" cy="795.4" r="12.2"/><circle cx="444" cy="784.2" r="12.2"/><circle cx="452" cy="775.7" r="12.2"/><circle cx="454.4" cy="763.9" r="12.2"/><circle cx="465.2" cy="760.7" r="12.2"/><circle cx="471.8" cy="752.6" r="12.2"/><circle cx="479.8" cy="753.7" r="12.2"/><circle cx="483.3" cy="747.8" r="12.2"/><circle cx="490.5" cy="731.9" r="12.2"/><circle cx="495.4" cy="726.1" r="12.2"/><circle cx="504.5" cy="727" r="12.2"/><circle cx="508.8" cy="709.1" r="12.2"/><circle cx="516.6" cy="708.2" r="12.2"/><circle cx="520.5" cy="702.3" r="12.2"/><circle cx="526.8" cy="697.9" r="12.2"/><circle cx="532.9" cy="673.3" r="12.2"/><circle cx="540.5" cy="669.9" r="12.2"/><circle cx="543.7" cy="662.7" r="12.2"/><circle cx="551.8" cy="659.5" r="12.2"/><circle cx="554.3" cy="650.8" r="12.2"/><circle cx="566.1" cy="646.5" r="12.2"/><circle cx="569.7" cy="639.7" r="12.2"/><circle cx="577.8" cy="639.3" r="12.2"/><circle cx="581.8" cy="627.3" r="12.2"/><circle cx="592" cy="620" r="12.2"/><circle cx="594.1" cy="609.9" r="12.2"/><circle cx="602.9" cy="603.3" r="12.2"/><circle cx="602" cy="585.1" r="12.2"/><circle cx="613.8" cy="576.4" r="12.2"/><circle cx="618.5" cy="563.6" r="12.2"/><circle cx="625.4" cy="552.8" r="12.2"/><circle cx="629.4" cy="546.2" r="12.2"/><circle cx="637.4" cy="544.4" r="12.2"/><circle cx="644.1" cy="538.2" r="12.2"/><circle cx="653.9" cy="537.8" r="12.2"/><circle cx="658.7" cy="528.3" r="12.2"/><circle cx="668.3" cy="525.3" r="12.2"/><circle cx="673.6" cy="519.4" r="12.2"/><circle cx="682.4" cy="521" r="12.2"/><circle cx="688.4" cy="509.3" r="12.2"/><circle cx="699.3" cy="504.2" r="12.2"/><circle cx="707.8" cy="500.5" r="12.2"/><circle cx="713.2" cy="504" r="12.2"/><circle cx="717.7" cy="499.5" r="12.2"/><circle cx="726.8" cy="501.1" r="12.2"/><circle cx="733.4" cy="494.4" r="12.2"/><circle cx="739.8" cy="495.8" r="12.2"/><circle cx="743.5" cy="491.6" r="12.2"/><circle cx="752.4" cy="484.2" r="12.2"/><circle cx="757.4" cy="472.6" r="12.2"/><circle cx="757.4" cy="503.7" r="12.2"/><circle cx="766.4" cy="495.6" r="12.2"/><circle cx="777.1" cy="493.1" r="12.2"/><circle cx="781.8" cy="489.2" r="12.2"/><circle cx="787" cy="493.4" r="12.2"/><circle cx="792" cy="489.9" r="12.2"/><circle cx="797.8" cy="492.1" r="12.2"/><circle cx="804.6" cy="485.2" r="12.2"/><circle cx="813.6" cy="484.2" r="12.2"/><circle cx="821.4" cy="482.3" r="12.2"/><circle cx="828.5" cy="487.4" r="12.2"/><circle cx="838.3" cy="486.4" r="12.2"/><circle cx="846.3" cy="492.2" r="12.2"/><circle cx="852" cy="489.2" r="12.2"/><circle cx="856.8" cy="493.4" r="12.2"/><circle cx="862.8" cy="491.1" r="12.2"/><circle cx="867.3" cy="495.6" r="12.2"/><circle cx="877.7" cy="496.4" r="12.2"/><circle cx="881.4" cy="501.9" r="12.2"/><circle cx="887.8" cy="501.7" r="12.2"/><circle cx="895.8" cy="509.7" r="12.2"/><circle cx="907.7" cy="510" r="12.2"/><circle cx="913.4" cy="519.3" r="12.2"/><circle cx="923.5" cy="522.2" r="12.2"/><circle cx="928.1" cy="528.2" r="12.2"/><circle cx="936.5" cy="528.3" r="12.2"/><circle cx="941.6" cy="547.5" r="12.2"/><circle cx="951.6" cy="553.6" r="12.2"/><circle cx="955.3" cy="564.3" r="12.2"/><circle cx="967.6" cy="569.1" r="12.2"/><circle cx="974" cy="580.6" r="12.2"/><circle cx="976.9" cy="601" r="12.2"/><circle cx="982.4" cy="610.5" r="12.2"/><circle cx="993.4" cy="615" r="12.2"/><circle cx="999" cy="622" r="12.2"/><circle cx="1008.2" cy="623.9" r="12.2"/><circle cx="1011.3" cy="635" r="12.2"/><circle cx="1019.6" cy="642.9" r="12.2"/><circle cx="1025" cy="661.7" r="12.2"/><circle cx="1035" cy="665.6" r="12.2"/><circle cx="1039.8" cy="674.6" r="12.2"/><circle cx="1048.1" cy="680.7" r="12.2"/><circle cx="1049.7" cy="690.8" r="12.2"/><circle cx="1057.6" cy="706.5" r="12.2"/><circle cx="1063.2" cy="712.6" r="12.2"/><circle cx="1073.5" cy="712.5" r="12.2"/><circle cx="1077.2" cy="726" r="12.2"/><circle cx="1086.3" cy="735.5" r="12.2"/><circle cx="1090.9" cy="747.7" r="12.2"/><circle cx="1102.3" cy="754.8" r="12.2"/><circle cx="1105.8" cy="766.9" r="12.2"/><circle cx="1115.1" cy="775.4" r="12.2"/><circle cx="1116.2" cy="799" r="12.2"/><circle cx="1126.5" cy="797.9" r="12.2"/><circle cx="1132.5" cy="803.5" r="12.2"/><circle cx="1141.2" cy="811.1" r="12.2"/><circle cx="1142.4" cy="823.1" r="12.2"/><circle cx="1155.2" cy="845.5" r="12.2"/><circle cx="1160.6" cy="860" r="12.2"/><circle cx="1172.2" cy="869.9" r="12.2"/><circle cx="1176.5" cy="883.4" r="12.2"/><circle cx="1186.3" cy="893.7" r="12.2"/><circle cx="1188.3" cy="905.6" r="12.2"/><circle cx="1197.1" cy="913.7" r="12.2"/></g><line x1="791.3" y1="393" x2="706.9" y2="271.9" stroke="#000" stroke-width="3.6"/><path d="M695.5 255.5L717.7 268.1L699.6 280.7Z" fill="#000"/><line x1="658.3" y1="535.5" x2="616.7" y2="438" stroke="#000" stroke-width="3.6"/><path d="M608.8 419.6L627.9 436.4L607.7 445.1Z" fill="#000"/><line x1="445" y1="892" x2="536.3" y2="917.8" stroke="#000" stroke-width="3.6"/><path d="M555.5 923.3L530.4 927.6L536.4 906.4Z" fill="#000"/><g stroke="#000" stroke-width="7.0" fill="none" stroke-linecap="butt"><rect x="214.3" y="71.6" width="1284.3" height="951.6999999999999" stroke-linejoin="round"/></g><g stroke="#000" stroke-width="6.4" fill="none"><line x1="202.3" y1="1023.3" x2="214.3" y2="1023.3"/><line x1="192.3" y1="966.5" x2="214.3" y2="966.5"/><line x1="202.3" y1="910.6" x2="214.3" y2="910.6"/><line x1="192.3" y1="854.6" x2="214.3" y2="854.6"/><line x1="202.3" y1="798.7" x2="214.3" y2="798.7"/><line x1="192.3" y1="742.8" x2="214.3" y2="742.8"/><line x1="202.3" y1="686.9" x2="214.3" y2="686.9"/><line x1="192.3" y1="630.9" x2="214.3" y2="630.9"/><line x1="202.3" y1="575" x2="214.3" y2="575"/><line x1="192.3" y1="519.1" x2="214.3" y2="519.1"/><line x1="202.3" y1="463.1" x2="214.3" y2="463.1"/><line x1="192.3" y1="407.2" x2="214.3" y2="407.2"/><line x1="202.3" y1="351.3" x2="214.3" y2="351.3"/><line x1="192.3" y1="295.3" x2="214.3" y2="295.3"/><line x1="202.3" y1="239.4" x2="214.3" y2="239.4"/><line x1="192.3" y1="183.5" x2="214.3" y2="183.5"/><line x1="202.3" y1="127.5" x2="214.3" y2="127.5"/><line x1="192.3" y1="71.6" x2="214.3" y2="71.6"/><line x1="214.3" y1="1023.3" x2="214.3" y2="1033.3"/><line x1="305.5" y1="1023.3" x2="305.5" y2="1043.3"/><line x1="397.4" y1="1023.3" x2="397.4" y2="1033.3"/><line x1="489.3" y1="1023.3" x2="489.3" y2="1043.3"/><line x1="581.2" y1="1023.3" x2="581.2" y2="1033.3"/><line x1="673.1" y1="1023.3" x2="673.1" y2="1043.3"/><line x1="765" y1="1023.3" x2="765" y2="1033.3"/><line x1="856.9" y1="1023.3" x2="856.9" y2="1043.3"/><line x1="948.8" y1="1023.3" x2="948.8" y2="1033.3"/><line x1="1040.7" y1="1023.3" x2="1040.7" y2="1043.3"/><line x1="1132.6" y1="1023.3" x2="1132.6" y2="1033.3"/><line x1="1224.5" y1="1023.3" x2="1224.5" y2="1043.3"/><line x1="1316.4" y1="1023.3" x2="1316.4" y2="1033.3"/><line x1="1408.3" y1="1023.3" x2="1408.3" y2="1043.3"/><line x1="1498.6" y1="1023.3" x2="1498.6" y2="1033.3"/></g><g font-size="55"><text x="181.3" y="982" text-anchor="end">0</text><text x="181.3" y="870.1" text-anchor="end">10</text><text x="181.3" y="758.3" text-anchor="end">20</text><text x="181.3" y="646.4" text-anchor="end">30</text><text x="181.3" y="534.6" text-anchor="end">40</text><text x="181.3" y="422.7" text-anchor="end">50</text><text x="181.3" y="310.8" text-anchor="end">60</text><text x="181.3" y="199" text-anchor="end">70</text><text x="181.3" y="87.1" text-anchor="end">80</text><text x="305.5" y="1096" text-anchor="middle">0</text><text x="489.3" y="1096" text-anchor="middle">50</text><text x="673.1" y="1096" text-anchor="middle">100</text><text x="856.9" y="1096" text-anchor="middle">150</text><text x="1040.7" y="1096" text-anchor="middle">200</text><text x="1224.5" y="1096" text-anchor="middle">250</text><text x="1408.3" y="1096" text-anchor="middle">300</text></g><text transform="translate(855.6,1189) scale(0.965,1)" font-size="63" text-anchor="middle">X</text><text transform="translate(94.7,546) rotate(-90) scale(0.965,1)" font-size="63" text-anchor="middle">Y</text><line x1="768" y1="124.1" x2="896" y2="124.1" stroke="#000" stroke-width="4.6"/><rect x="823.5" y="112.8" width="18.5" height="22.5" fill="#000"/><text transform="translate(909.6,141.8) scale(0.962,1)" font-size="57.5">Experiment</text><line x1="768" y1="192.3" x2="896" y2="192.3" stroke="#ff0000" stroke-width="4.6"/><ellipse cx="832.8" cy="192.3" rx="9.8" ry="12.6" fill="#ff0000"/><text transform="translate(909.6,209.8) scale(0.962,1)" font-size="57.5">Discharging simulation</text><line x1="768" y1="260.2" x2="896" y2="260.2" stroke="#0000ff" stroke-width="4.6"/><path d="M832.8 243.2L839.8 258.2L845.3 268.2L820.3 268.2L825.8 258.2Z" fill="#0000ff"/><text transform="translate(909.6,277.8) scale(0.962,1)" font-size="57.5">Lifting simulation</text></svg></div></body></html>
